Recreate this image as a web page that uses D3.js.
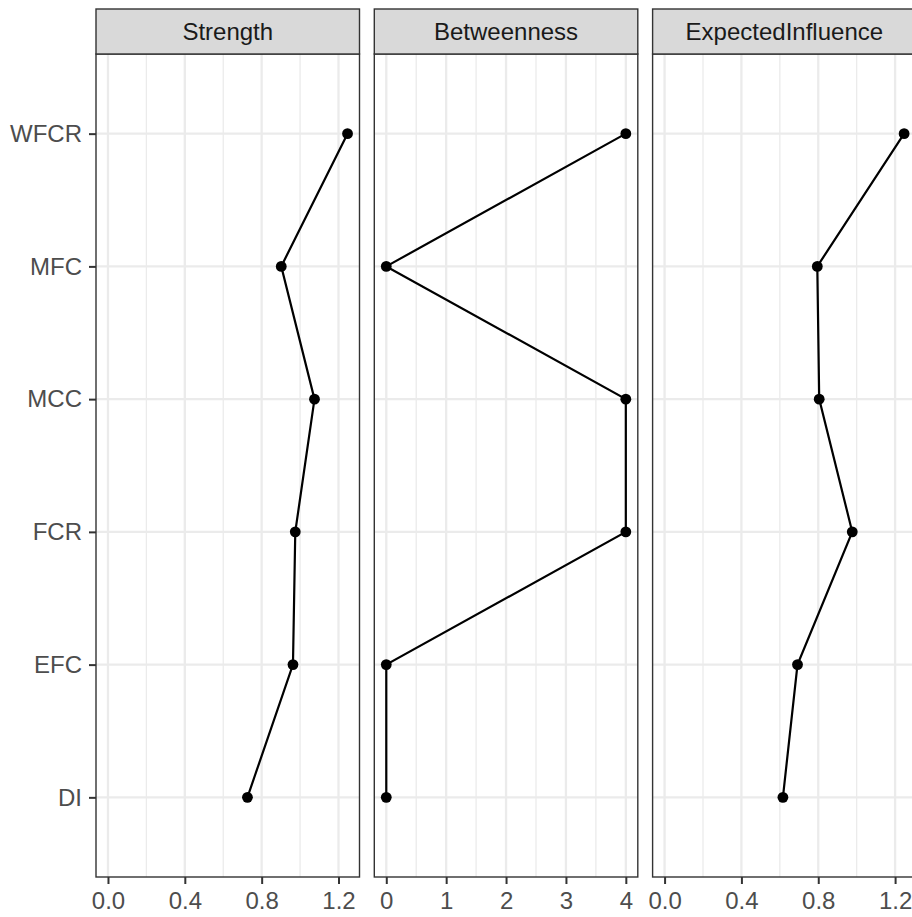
<!DOCTYPE html>
<html>
<head>
<meta charset="utf-8">
<script src="https://cdn.jsdelivr.net/npm/d3@7"></script>
<style>
  body { margin: 0; background: #fff; overflow: hidden; }
  svg { display: block; font-family: "Liberation Sans", Arial, sans-serif; }
</style>
</head>
<body>
<div id="chart"></div>
<script>
// nodes, bottom to top
const nodes = ["DI", "EFC", "FCR", "MCC", "MFC", "WFCR"];
const measures = ["Strength", "Betweenness", "ExpectedInfluence"];
const strength = [0.726, 0.963, 0.975, 1.075, 0.902, 1.247];
const betweenness = [0, 0, 4, 4, 0, 4];
const expectedInfluence = [0.616, 0.692, 0.977, 0.805, 0.795, 1.247];
const tickLabels = [
  [0, 0.4, 0.8, 1.2],
  [0, 1, 2, 3, 4],
  [0, 0.4, 0.8, 1.2]
];
const minorTicks = [
  [0.2, 0.6, 1.0],
  [0.5, 1.5, 2.5, 3.5],
  [0.2, 0.6, 1.0]
];
const seriesValues = [strength, betweenness, expectedInfluence];

const width = 912;
const height = 917;
const margin = { top: 9, left: 96, bottom: 40 };
const stripH = 45;
const panelW = 263.5;
const gap = 14.8;
const fontSize = 24;
const panelTop = margin.top + stripH;
const panelBottom = height - margin.bottom;

const svg = d3.select('#chart').append('svg')
  .attr('width', width)
  .attr('height', height);

const y = d3.scalePoint()
  .domain(nodes)
  .range([panelBottom, panelTop])
  .padding(0.6);

measures.forEach((m, i) => {
  const vals = seriesValues[i];
  const max = d3.max(vals);
  const ext = max * 0.05;
  const left = margin.left + i * (panelW + gap);
  const x = d3.scaleLinear().domain([-ext, max + ext]).range([0, panelW]);

  const g = svg.append('g').attr('transform', `translate(${left},0)`);

  // background
  g.append('rect')
    .attr('x', 0).attr('y', panelTop)
    .attr('width', panelW).attr('height', panelBottom - panelTop)
    .attr('fill', '#fff');

  // minor grid
  g.selectAll('.minor').data(minorTicks[i]).enter().append('line')
    .attr('x1', (d) => x(d)).attr('x2', (d) => x(d))
    .attr('y1', panelTop).attr('y2', panelBottom)
    .attr('stroke', '#EBEBEB').attr('stroke-width', 1.3);

  // major grid
  g.selectAll('.majorx').data(tickLabels[i]).enter().append('line')
    .attr('x1', (d) => x(d)).attr('x2', (d) => x(d))
    .attr('y1', panelTop).attr('y2', panelBottom)
    .attr('stroke', '#EBEBEB').attr('stroke-width', 2.3);
  g.selectAll('.majory').data(nodes).enter().append('line')
    .attr('x1', 0).attr('x2', panelW)
    .attr('y1', (d) => y(d)).attr('y2', (d) => y(d))
    .attr('stroke', '#EBEBEB').attr('stroke-width', 2.3);

  // line + points
  const pts = nodes.map((n, k) => [n, vals[k]]);
  g.append('path')
    .datum(pts)
    .attr('fill', 'none')
    .attr('stroke', '#000')
    .attr('stroke-width', 2.2)
    .attr('d', d3.line().x((d) => x(d[1])).y((d) => y(d[0])));
  g.selectAll('circle').data(pts).enter().append('circle')
    .attr('cx', (d) => x(d[1]))
    .attr('cy', (d) => y(d[0]))
    .attr('r', 5.4)
    .attr('fill', '#000');

  // panel border
  g.append('rect')
    .attr('x', 0).attr('y', panelTop)
    .attr('width', panelW).attr('height', panelBottom - panelTop)
    .attr('fill', 'none').attr('stroke', '#333333').attr('stroke-width', 1.4);

  // strip
  g.append('rect')
    .attr('x', 0).attr('y', margin.top)
    .attr('width', panelW).attr('height', stripH)
    .attr('fill', '#D9D9D9').attr('stroke', '#333333').attr('stroke-width', 1.4);
  g.append('text')
    .attr('x', panelW / 2).attr('y', margin.top + stripH / 2)
    .attr('dy', '0.36em')
    .attr('text-anchor', 'middle')
    .attr('font-size', fontSize)
    .attr('fill', '#1A1A1A')
    .text(m);

  // x axis
  const fmt = i === 1 ? d3.format('d') : d3.format('.1f');
  const xAxis = g.append('g')
    .attr('transform', `translate(0,${panelBottom})`)
    .call(d3.axisBottom(x).tickValues(tickLabels[i]).tickFormat(fmt).tickSize(7).tickPadding(8));
  xAxis.select('.domain').remove();
  xAxis.selectAll('line').attr('stroke', '#333333').attr('stroke-width', 2);
  xAxis.selectAll('text').attr('font-size', fontSize).attr('fill', '#4D4D4D')
    .attr('font-family', '"Liberation Sans", Arial, sans-serif');

  // y axis only on first panel
  if (i === 0) {
    const yAxis = g.append('g')
      .call(d3.axisLeft(y).tickSize(7).tickPadding(7));
    yAxis.select('.domain').remove();
    yAxis.selectAll('line').attr('stroke', '#333333').attr('stroke-width', 2);
    yAxis.selectAll('text').attr('font-size', fontSize).attr('fill', '#4D4D4D')
      .attr('font-family', '"Liberation Sans", Arial, sans-serif');
  }
});
</script>
</body>
</html>
